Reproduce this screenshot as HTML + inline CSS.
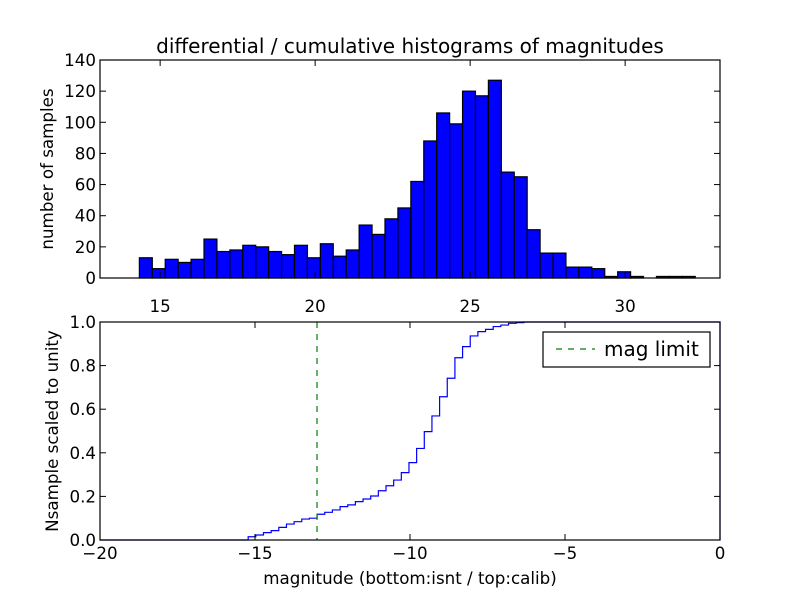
<!DOCTYPE html>
<html><head><meta charset="utf-8"><style>
body{margin:0;background:#fff}
svg{display:block;font-family:"DejaVu Sans","Liberation Sans",sans-serif}
</style></head><body>
<svg id="c" width="800" height="600" xmlns="http://www.w3.org/2000/svg">
<rect width="800" height="600" fill="#fff"/>
<g id="topg"></g>
<g id="botg"></g>
<text x="410" y="53" font-size="20" text-anchor="middle">differential / cumulative histograms of magnitudes</text>
<text x="53" y="169" font-size="16.7" text-anchor="middle" transform="rotate(-90 53 169)">number of samples</text>
<text x="58" y="431" font-size="16.7" text-anchor="middle" transform="rotate(-90 58 431)">Nsample scaled to unity</text>
<text x="410" y="584" font-size="16.7" text-anchor="middle">magnitude (bottom:isnt / top:calib)</text>
</svg>
<script>
const histStart = 14.33;
const histBinWidth = 0.417;
const histCounts = [13,6,12,10,12,25,17,18,21,20,17,15,21,13,22,14,18,34,28,38,45,62,88,106,99,120,117,127,68,65,31,16,16,7,7,6,1,4,1,0,1,1,1];
const topXTicks = [15,20,25,30];
const topYTicks = [0,20,40,60,80,100,120,140];
const cumStart = -15.22;
const cumBinWidth = 0.247;
const cumValues = [0.015,0.023,0.034,0.043,0.058,0.073,0.084,0.096,0.10,0.118,0.127,0.138,0.153,0.161,0.176,0.188,0.202,0.226,0.249,0.275,0.309,0.355,0.42,0.497,0.569,0.657,0.742,0.836,0.887,0.936,0.956,0.966,0.979,0.986,0.994,0.997,1.0,1.0,1.0,1.0,1.0,1.0,1.0,1.0,1.0,1.0,1.0,1.0,1.0,1.0,1.0,1.0,1.0,1.0,1.0,1.0,1.0,1.0,1.0,1.0,1.0,1.0];
const botXTicks = [-20,-15,-10,-5,0];
const botYTicks = [0,0.2,0.4,0.6,0.8,1.0];
const magLimit = -13;

const NS="http://www.w3.org/2000/svg";
function mk(p,t,a){const e=document.createElementNS(NS,t);for(const k in a)e.setAttribute(k,a[k]);p.appendChild(e);return e;}
const L=100,R=720;
const tx=v=>L+(v-13.06)*(R-L)/20, ty=v=>278-v*218/140;
const topG=document.getElementById('topg');
histCounts.forEach((c,i)=>{const x0=tx(histStart+i*histBinWidth),x1=tx(histStart+(i+1)*histBinWidth);
const r=mk(topG,'rect',{x:x0,y:ty(c),width:x1-x0,height:ty(0)-ty(c),fill:'#0000ff',stroke:'#000','stroke-width':1.2});

});
mk(topG,'rect',{x:L,y:60,width:R-L,height:218,fill:'none',stroke:'#000','stroke-width':1.2});
topXTicks.forEach(v=>{const x=tx(v);mk(topG,'line',{x1:x,x2:x,y1:278,y2:272,stroke:'#000'});mk(topG,'line',{x1:x,x2:x,y1:60,y2:66,stroke:'#000'});
const t=mk(topG,'text',{x:x,y:312,'font-size':16.7,'text-anchor':'middle'});t.textContent=v;

});
topYTicks.forEach(v=>{const y=ty(v);mk(topG,'line',{x1:L,x2:L+6,y1:y,y2:y,stroke:'#000'});mk(topG,'line',{x1:R,x2:R-6,y1:y,y2:y,stroke:'#000'});
const t=mk(topG,'text',{x:96,y:y+6,'font-size':16.7,'text-anchor':'end'});t.textContent=v;

});
const bx=v=>L+(v+20)*(R-L)/20, by=v=>540-v*218;
const botG=document.getElementById('botg');
let d=`M${L},${by(0)} L${bx(cumStart)},${by(0)}`;
cumValues.forEach((v,i)=>{const x0=bx(cumStart+i*cumBinWidth),x1=bx(Math.min(0,cumStart+(i+1)*cumBinWidth));d+=` L${x0},${by(v)} L${x1},${by(v)}`;});
d+=` L${bx(0)},${by(1)} L${bx(0)},${by(0)}`;
const p=mk(botG,'path',{d:d,fill:'none',stroke:'#0000ff','stroke-width':1.2});


const ml=mk(botG,'line',{x1:bx(magLimit),x2:bx(magLimit),y1:322,y2:540,stroke:'#007f00','stroke-width':1.2,'stroke-dasharray':'6,6'});


mk(botG,'rect',{x:L,y:322,width:R-L,height:218,fill:'none',stroke:'#000','stroke-width':1.2});
botXTicks.forEach(v=>{const x=bx(v);mk(botG,'line',{x1:x,x2:x,y1:540,y2:534,stroke:'#000'});mk(botG,'line',{x1:x,x2:x,y1:322,y2:328,stroke:'#000'});
const t=mk(botG,'text',{x:x,y:559,'font-size':16.7,'text-anchor':'middle'});t.textContent=v<0?'\u2212'+(-v):v;

});
botYTicks.forEach(v=>{const y=by(v);mk(botG,'line',{x1:L,x2:L+6,y1:y,y2:y,stroke:'#000'});mk(botG,'line',{x1:R,x2:R-6,y1:y,y2:y,stroke:'#000'});
const t=mk(botG,'text',{x:96,y:y+6,'font-size':16.7,'text-anchor':'end'});t.textContent=v.toFixed(1);

});
const lg=mk(botG,'g',{});


mk(lg,'rect',{x:543,y:332,width:167,height:35,fill:'#fff',stroke:'#000','stroke-width':1.2});
mk(lg,'line',{x1:555,x2:595,y1:349,y2:349,stroke:'#007f00','stroke-width':1.2,'stroke-dasharray':'6,6','stroke-dashoffset':-1});
const lt=mk(lg,'text',{x:604,y:356,'font-size':20});lt.textContent='mag limit';


</script>
</body></html>
